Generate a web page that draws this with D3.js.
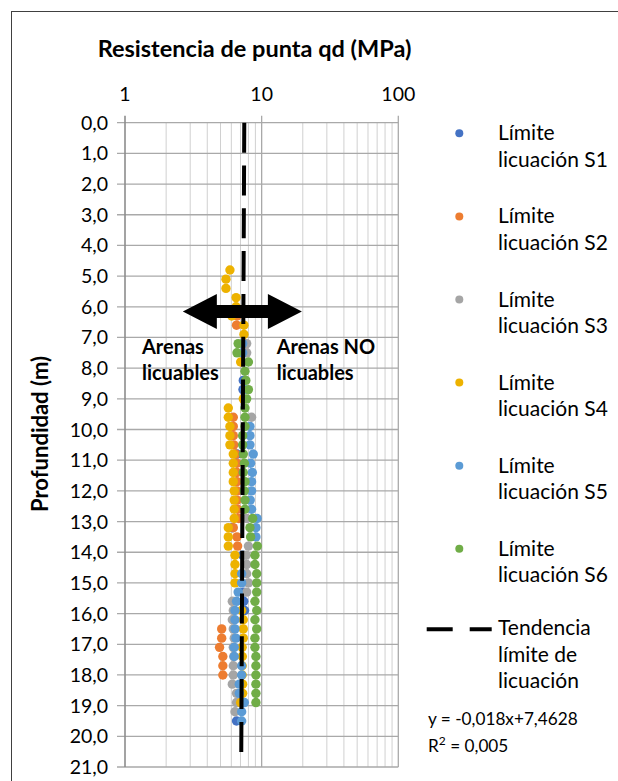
<!DOCTYPE html>
<html>
<head>
<meta charset="utf-8">
<script src="https://cdn.jsdelivr.net/npm/d3@7"></script>
<style>
  html, body { margin: 0; padding: 0; background: #ffffff; }
  svg { display: block; }
  text { font-family: Lato, "Open Sans", "Noto Sans", sans-serif; fill: #000; }
</style>
</head>
<body>
<svg id="chart" width="618" height="781"></svg>
<script>
// Sampling depths (m), shared by every series
const depths = [4.8, 5.1, 5.4, 5.7, 6.0, 6.3, 6.6, 6.9, 7.2, 7.5,
                7.8, 8.1, 8.4, 8.7, 9.0, 9.3, 9.6, 9.9, 10.2, 10.5,
                10.8, 11.1, 11.4, 11.7, 12.0, 12.3, 12.6, 12.9, 13.2, 13.5,
                13.8, 14.1, 14.4, 14.7, 15.0, 15.3, 15.6, 15.9, 16.2, 16.5,
                16.8, 17.1, 17.4, 17.7, 18.0, 18.3, 18.6, 18.9, 19.2, 19.5];

// Limit tip resistance qd (MPa) per sounding, null where no value
const limitS1 = [null, null, null, null, null, null, null, null, null, null,
                 null, null, 7.34, 7.30, null, null, null, null, null, null,
                 6.60, null, null, null, null, null, null, null, 6.10, null,
                 null, 7.26, null, null, null, 7.34, 7.40, 7.50, null, null,
                 null, null, null, null, null, null, null, null, null, 6.55];
const limitS2 = [null, null, null, null, null, 6.60, 6.55, null, null, null,
                 null, null, null, null, null, null, 6.20, 6.20, 6.20, 6.25,
                 6.45, 6.60, 6.60, 6.60, 6.60, 6.60, 6.67, 6.80, 6.20, 6.60,
                 6.67, null, null, null, null, null, null, null, null, 5.10,
                 5.10, 4.92, 5.20, 5.20, 5.20, null, null, null, null, null];
const limitS3 = [null, null, null, null, null, null, null, null, 7.77, 7.77,
                 null, null, null, null, null, null, 8.44, null, null, null,
                 null, null, null, null, null, null, null, 7.77, null, null,
                 8.00, 7.70, 7.77, 7.77, 8.00, 7.77, 6.10, 6.20, 6.10, 6.20,
                 6.30, 6.20, 6.25, 6.20, 6.20, 6.10, 6.55, 6.55, 6.38, null];
const limitS4 = [5.86, 5.48, 5.48, 6.50, 6.50, 6.04, 7.42, 7.42, null, null,
                 7.02, null, null, null, 7.34, 5.70, 5.70, 5.86, 5.86, 5.86,
                 6.20, 6.20, 6.20, 6.20, 6.30, 6.30, 6.30, 6.30, 5.70, 5.70,
                 5.70, 6.38, 6.38, 6.38, 6.38, null, null, 7.14, 7.34, 7.34,
                 7.34, 7.20, 7.22, 7.20, 7.20, 7.26, 7.26, 7.02, null, null];
const limitS5 = [null, null, null, null, null, null, null, null, 7.26, 7.26,
                 null, null, null, 7.55, null, null, null, 8.21, 8.21, 8.21,
                 8.68, 8.30, 8.55, 8.44, 8.44, 8.25, 8.44, 9.26, 9.08, 9.08,
                 null, null, null, 7.14, 7.14, 6.73, 6.55, 6.38, 6.38, 6.38,
                 6.48, 6.30, 6.30, 7.14, 7.14, 6.86, 6.86, 7.47, 7.14, 7.14];
const limitS6 = [null, null, null, null, null, null, null, null, 6.73, 6.60,
                 8.00, 7.55, 7.66, 8.00, 7.77, 7.55, 7.55, 7.55, 7.26, 7.26,
                 7.34, 7.47, 7.34, 7.55, 7.47, 7.55, 7.55, 8.60, 8.21, 8.30,
                 9.30, 8.93, 8.93, 9.20, 9.20, 9.20, 8.93, 9.20, 8.93, 9.20,
                 8.93, 8.93, 9.08, 9.08, 9.08, 9.08, 9.08, 9.08, null, null];

const seriesNames = ["S1", "S2", "S3", "S4", "S5", "S6"];
const seriesColors = ["#4472C4", "#ED7D31", "#A5A5A5", "#EDB200", "#5B9BD5", "#70AD47"];
const seriesValues = [limitS1, limitS2, limitS3, limitS4, limitS5, limitS6];

// Linear trend of the limit: qd = slope * depth + intercept
const trendSlope = -0.018;
const trendIntercept = 7.4628;
const trendDepths = [0, 20.55];

// Axis ticks
const xTicks = [1, 10, 100];
const xMinorTicks = [2, 3, 4, 5, 6, 7, 8, 9, 20, 30, 40, 50, 60, 70, 80, 90];
const yTicks = d3.range(0, 22, 1);

// Texts
const chartTitle = "Resistencia de punta qd (MPa)";
const yTitle = "Profundidad (m)";
const legendLine1 = "Límite";
const legendLine2 = "licuación ";
const trendLegend = ["Tendencia", "límite de", "licuación"];
const equationText = "y = -0,018x+7,4628";
const leftZoneLabel = ["Arenas", "licuables"];
const rightZoneLabel = ["Arenas NO", "licuables"];

// Annotation anchors in data units
const arrowSpan = [2.65, 19.7];
const arrowDepth = 6.15;
const leftLabelAnchor = { qd: 1.33, depth: 7.53 };
const rightLabelAnchor = { qd: 12.9, depth: 7.53 };

const svg = d3.select("#chart");
const fmt = d3.format(".1f");
const comma = v => fmt(v).replace(".", ",");

const plot = { left: 125, right: 398.3, top: 122.7, bottom: 767 };
const x = d3.scaleLog().domain([1, 100]).range([plot.left, plot.right]);
const y = d3.scaleLinear().domain([0, 21]).range([plot.top, plot.bottom]);

// Chart frame
svg.append("rect")
  .attr("x", 11.5).attr("y", 11.5)
  .attr("width", 640).attr("height", 800)
  .attr("fill", "none").attr("stroke", "#404040").attr("stroke-width", 1);

// Grid
const grid = svg.append("g");
grid.selectAll("line.minor").data(xMinorTicks).join("line")
  .attr("class", "minor")
  .attr("x1", d => x(d)).attr("x2", d => x(d))
  .attr("y1", plot.top).attr("y2", plot.bottom)
  .attr("stroke", "#d0d0d0").attr("stroke-width", 1);
grid.selectAll("line.hmaj").data(yTicks).join("line")
  .attr("class", "hmaj")
  .attr("x1", plot.left - 8).attr("x2", plot.right)
  .attr("y1", d => y(d)).attr("y2", d => y(d))
  .attr("stroke", "#a9a9a9").attr("stroke-width", 1.3);
grid.selectAll("line.vmaj").data(xTicks).join("line")
  .attr("class", "vmaj")
  .attr("x1", d => x(d)).attr("x2", d => x(d))
  .attr("y1", plot.top - 7).attr("y2", plot.bottom)
  .attr("stroke", d => d === 1 ? "#8c8c8c" : "#a9a9a9")
  .attr("stroke-width", d => d === 1 ? 1.6 : 1.3);

// Axis labels
svg.append("g").selectAll("text").data(xTicks).join("text")
  .attr("x", d => x(d)).attr("y", 101)
  .attr("text-anchor", "middle")
  .style("font-size", "19.5px")
  .text(d => d);
svg.append("g").selectAll("text").data(yTicks).join("text")
  .attr("x", 108).attr("y", d => y(d) + 7)
  .attr("text-anchor", "end")
  .style("font-size", "19.5px")
  .text(d => comma(d));

svg.append("text")
  .attr("x", 254.5).attr("y", 57)
  .attr("text-anchor", "middle")
  .style("font-size", "23.5px").style("font-weight", "bold")
  .text(chartTitle);
svg.append("text")
  .attr("transform", "translate(48,434) rotate(-90)")
  .attr("text-anchor", "middle")
  .style("font-size", "22px").style("font-weight", "bold")
  .text(yTitle);

// Data points
const pts = svg.append("g");
seriesValues.forEach((vals, i) => {
  const data = depths.map((d, k) => ({ depth: d, qd: vals[k] })).filter(p => p.qd != null);
  pts.append("g").selectAll("circle").data(data).join("circle")
    .attr("cx", p => x(p.qd)).attr("cy", p => y(p.depth))
    .attr("r", 4.7)
    .attr("fill", seriesColors[i]);
});

// Trend line
const trendLine = d3.line().x(d => x(trendSlope * d + trendIntercept)).y(d => y(d));
svg.append("path")
  .attr("d", trendLine(trendDepths))
  .attr("fill", "none").attr("stroke", "#000").attr("stroke-width", 4)
  .attr("stroke-dasharray", "30 12.8");

// Double-headed arrow between the two zones
const ax0 = x(arrowSpan[0]), ax1 = x(arrowSpan[1]), ay = y(arrowDepth);
const headL = 34, headH = 17.5, shaftH = 6.5;
svg.append("path")
  .attr("d", d3.line()([
    [ax0, ay], [ax0 + headL, ay - headH], [ax0 + headL, ay - shaftH],
    [ax1 - headL, ay - shaftH], [ax1 - headL, ay - headH], [ax1, ay],
    [ax1 - headL, ay + headH], [ax1 - headL, ay + shaftH],
    [ax0 + headL, ay + shaftH], [ax0 + headL, ay + headH]
  ]) + "Z")
  .attr("fill", "#000");

function zoneLabel(anchor, lines) {
  const t = svg.append("text")
    .attr("x", x(anchor.qd)).attr("y", y(anchor.depth))
    .style("font-size", "20px").style("font-weight", "bold");
  lines.forEach((l, i) => t.append("tspan").attr("x", x(anchor.qd)).attr("dy", i ? 26 : 0).text(l));
}
zoneLabel(leftLabelAnchor, leftZoneLabel);
zoneLabel(rightLabelAnchor, rightZoneLabel);

// Legend
const legend = svg.append("g");
seriesNames.forEach((name, i) => {
  const cy = 133.3 + i * 83.1;
  legend.append("circle").attr("cx", 459.3).attr("cy", cy).attr("r", 4)
    .attr("fill", seriesColors[i]);
  const t = legend.append("text").attr("x", 498).attr("y", cy + 7).style("font-size", "21px");
  t.append("tspan").attr("x", 498).text(legendLine1);
  t.append("tspan").attr("x", 498).attr("dy", 26.5).text(legendLine2 + name);
});
legend.append("line")
  .attr("x1", 426.7).attr("x2", 491.7).attr("y1", 629.3).attr("y2", 629.3)
  .attr("stroke", "#000").attr("stroke-width", 4).attr("stroke-dasharray", "26 17");
const tl = legend.append("text").attr("x", 498).attr("y", 635).style("font-size", "21px");
trendLegend.forEach((l, i) => tl.append("tspan").attr("x", 498).attr("dy", i ? 26.5 : 0).text(l));

const eq = legend.append("text").attr("x", 428).attr("y", 725).style("font-size", "17.2px");
eq.append("tspan").attr("x", 428).text(equationText);
const r2 = legend.append("text").attr("x", 428).attr("y", 752).style("font-size", "17.2px");
r2.append("tspan").text("R");
r2.append("tspan").attr("dy", -7).style("font-size", "12px").text("2");
r2.append("tspan").attr("dy", 7).text(" = 0,005");
</script>
</body>
</html>
